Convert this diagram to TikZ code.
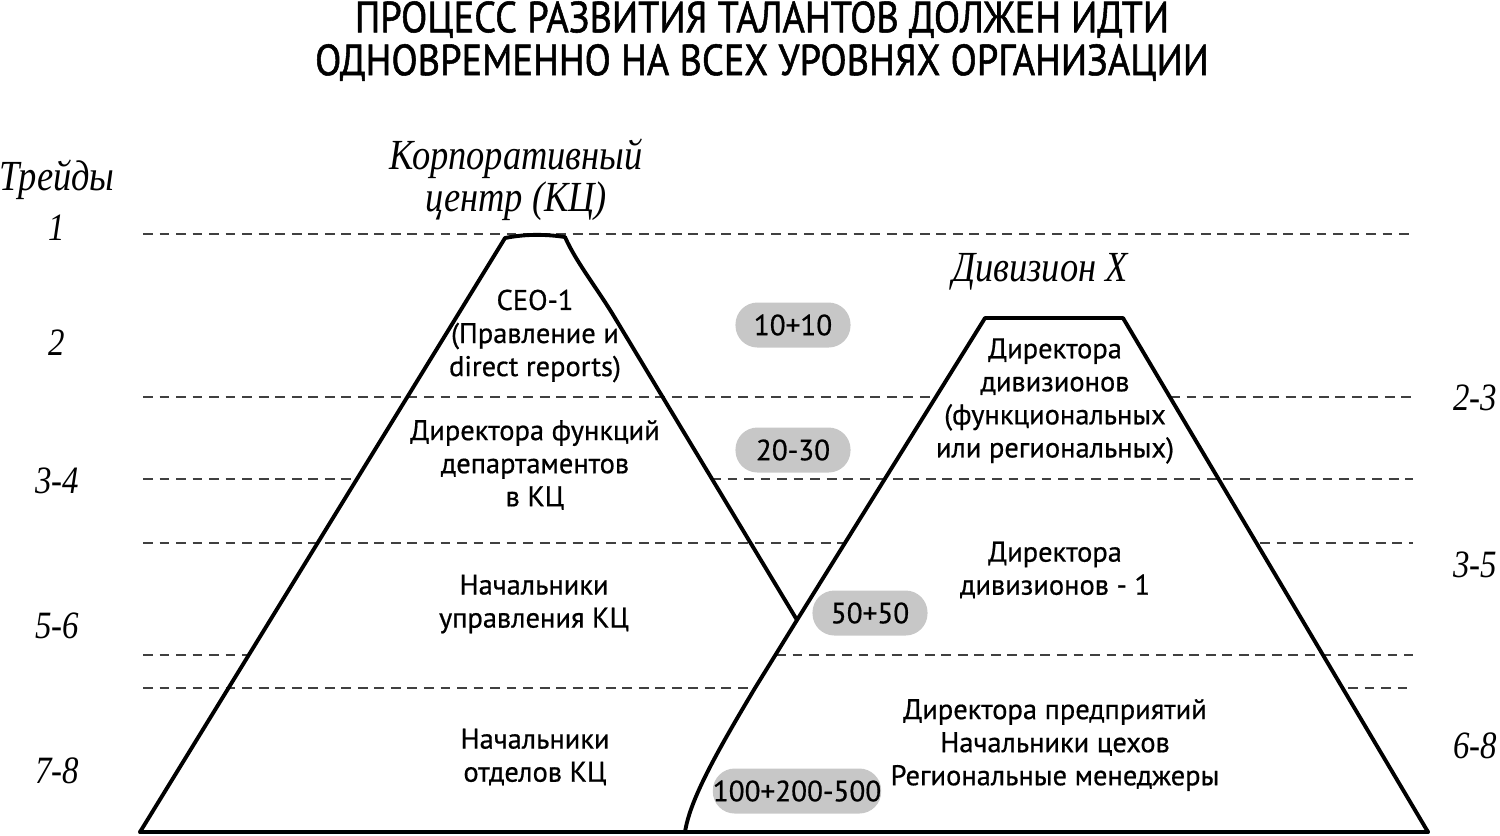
\documentclass[tikz,border=0pt]{standalone}
\usepackage{fontspec}
\setmainfont[FakeBold=0.6]{PT Sans}
\newfontfamily\headfont[FakeStretch=0.88,FakeBold=1.2]{PT Sans}
\newfontfamily\handfont[FakeStretch=0.85]{Liberation Serif}
\usetikzlibrary{positioning}

\tikzset{
  gridline/.style={draw=black!75, line width=0.6pt, dash pattern=on 2.8pt off 1.9pt},
  edge/.style={line width=1.1pt, line join=round, line cap=round},
  layer/.style={align=center, inner sep=0pt, font=\fontsize{8.1}{9.4}\selectfont},
  count/.style={fill=black!22, rounded corners=0.22cm, minimum width=1.15cm,
    minimum height=0.45cm, inner sep=0pt, font=\fontsize{8.3}{9.4}\selectfont},
  grade/.style={inner sep=0pt, font=\handfont\itshape\fontsize{11}{13}\selectfont},
  caption/.style={align=center, inner sep=0pt, font=\handfont\itshape\fontsize{12.2}{10.8}\selectfont},
  headline/.style={align=center, inner sep=0pt, font=\headfont\fontsize{12.4}{12.2}\selectfont}
}

\begin{document}
\begin{tikzpicture}[x=0.01cm,y=-0.01cm]
\useasboundingbox (0,0) rectangle (1500,835);

% title
\node[headline] (title) at (762,41) {ПРОЦЕСС РАЗВИТИЯ ТАЛАНТОВ ДОЛЖЕН ИДТИ\\ОДНОВРЕМЕННО НА ВСЕХ УРОВНЯХ ОРГАНИЗАЦИИ};

% grade levels
\draw[gridline] (143,234) -- (1413,234);
\draw[gridline] (143,397) -- (936,397);
\draw[gridline] (1170,397) -- (1413,397);
\draw[gridline] (143,479) -- (357,479);
\draw[gridline] (711,479) -- (1413,479);
\draw[gridline] (143,543) -- (845,543);
\draw[gridline] (1260,543) -- (1413,543);
\draw[gridline] (143,655) -- (249,655);
\draw[gridline] (776,655) -- (1413,655);
\draw[gridline] (143,688) -- (755,688);
\draw[gridline] (1348,688) -- (1413,688);

% pyramids
\coordinate (meet) at (797,620);
\draw[edge] (140,832) -- (505,238) .. controls (525,234) and (545,234) .. (565,237)
  .. controls (576,262) and (597,288) .. (615,318) -- (meet);
\draw[edge] (1428,832) -- (1123,318) -- (985,318) -- (meet) -- (755,688)
  .. controls (715,755) and (690,800) .. (685,832);
\draw[edge] (140,832) -- (1428,832);

% headings
\node[caption] (trades) at (57,180) {Трейды};
\node[caption] (centre) at (516,180) {Корпоративный\\центр (КЦ)};
\node[caption] (division) at (1040,272) {Дивизион Х};

\node[grade] (g1) at (57,228) {1};
\node[grade] (g2) at (57,343) {2};
\node[grade] (g34) at (57,481) {3-4};
\node[grade] (g56) at (57,626) {5-6};
\node[grade] (g78) at (57,771) {7-8};
\node[grade] (g23) at (1475,398) {2-3};
\node[grade] (g35) at (1475,565) {3-5};
\node[grade] (g68) at (1475,746) {6-8};

% corporate centre
\node[layer] (ceo) at (535,336) {CEO-1\\(Правление и\\direct reports)};
\node[layer] (funcs) at (535,465) {Директора функций\\департаментов\\в КЦ};
\node[layer] (mgmt) at (534,604) {Начальники\\управления КЦ};
\node[layer] (depts) at (535,757) {Начальники\\отделов КЦ};

% division
\node[layer] (divdir) at (1055,401) {Директора\\дивизионов\\(функциональных\\или региональных)};
\node[layer] (divdir1) at (1055,570) {Директора\\дивизионов - 1};
\node[layer] (plants) at (1055,745) {Директора предприятий\\Начальники цехов\\Региональные менеджеры};

% headcounts
\node[count] (n1) at (793,325) {10+10};
\node[count] (n2) at (793,450) {20-30};
\node[count] (n3) at (870,613) {50+50};
\node[count, minimum width=1.65cm] (n4) at (797,791) {100+200-500};
\end{tikzpicture}
\end{document}
